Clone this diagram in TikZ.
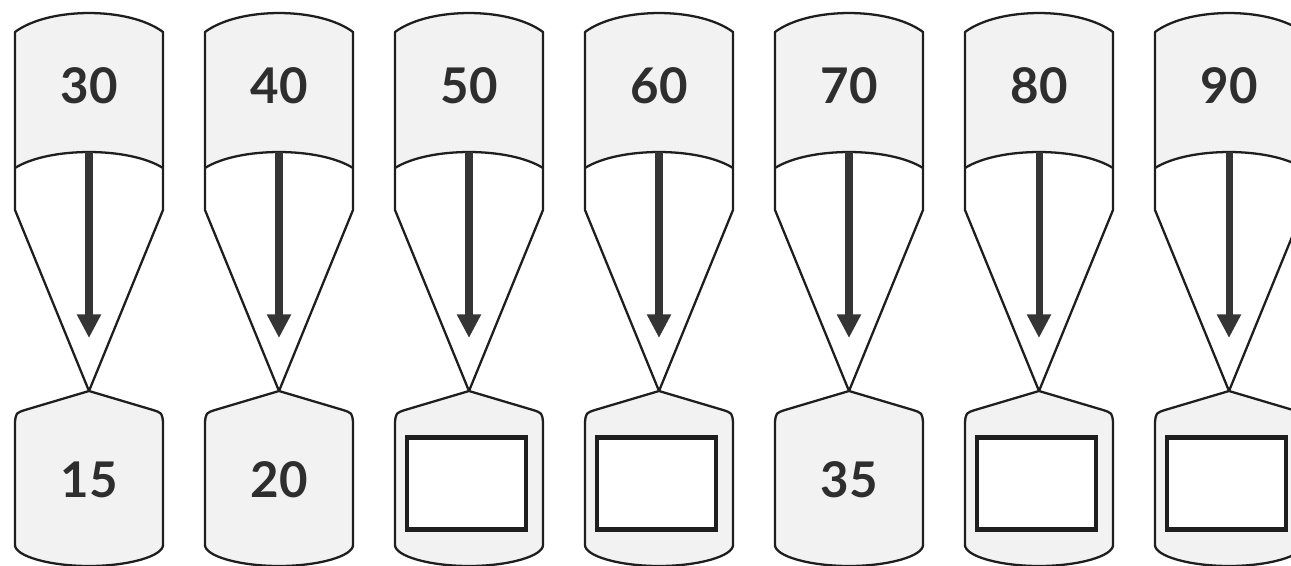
\documentclass[tikz,border=0pt]{standalone}
\usepackage{fontspec}
\setmainfont{Lato}
\usetikzlibrary{arrows.meta}
\definecolor{panel}{HTML}{F2F2F2}
\definecolor{ink}{HTML}{1E1E1E}
\definecolor{txt}{HTML}{2E2E2E}
\tikzset{
  outline/.style={draw=ink, line width=1.3pt, line join=round},
  num/.style={font=\fontsize{28}{30}\selectfont\bfseries, text=txt, inner sep=0pt},
  downarrow/.style={draw=ink!90, line width=4pt, -{Triangle[width=13pt,length=13.5pt]}},
  answerbox/.style={draw=ink, line width=2.8pt, fill=white, minimum width=2.38cm, minimum height=1.84cm, inner sep=0pt},
}
\begin{document}
\begin{tikzpicture}[x=0.02cm,y=-0.02cm]
\useasboundingbox[fill=white] (0,0) rectangle (1291,565);
\foreach \i/\tp in {1/30,2/40,3/50,4/60,5/70,6/80,7/90}{
  \pgfmathsetmacro{\cx}{89+190*(\i-1)}
  % shaded top band
  \fill[panel] (\cx-74,168) -- (\cx-74,32) .. controls (\cx-40,6.7) and (\cx+40,6.7) .. (\cx+74,32)
     -- (\cx+74,168) .. controls (\cx+40,146.7) and (\cx-40,146.7) .. cycle;
  % funnel outline
  \draw[outline] (\cx,391) -- (\cx-74,210) -- (\cx-74,32) .. controls (\cx-40,6.7) and (\cx+40,6.7) .. (\cx+74,32)
     -- (\cx+74,210) -- cycle;
  \draw[outline] (\cx-74,168) .. controls (\cx-40,146.7) and (\cx+40,146.7) .. (\cx+74,168);
  % bottom container
  \draw[outline, fill=panel] (\cx,391) -- (\cx+64,410) .. controls (\cx+73,413) .. (\cx+74,422)
     -- (\cx+74,545) .. controls (\cx+74,556) and (\cx+40,566) .. (\cx,566)
     .. controls (\cx-40,566) and (\cx-74,556) .. (\cx-74,545)
     -- (\cx-74,422) .. controls (\cx-73,413) .. (\cx-64,410) -- cycle;
  % arrow
  \coordinate (s\i) at (\cx,152);
  \coordinate (e\i) at (\cx,338);
  \draw[downarrow] (s\i) -- (e\i);
  % top number
  \node[num] (t\i) at (\cx,86) {\tp};
}
\foreach \i/\bt in {1/15,2/20,5/35}{
  \pgfmathsetmacro{\cx}{89+190*(\i-1)}
  \node[num] (b\i) at (\cx,480) {\bt};
}
\foreach \i in {3,4,6,7}{
  \pgfmathsetmacro{\bx}{89+190*(\i-1)-2.5}
  \node[answerbox] (b\i) at (\bx,483.5) {};
}
\end{tikzpicture}
\end{document}
